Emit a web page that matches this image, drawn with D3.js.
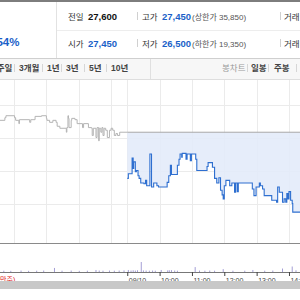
<!DOCTYPE html>
<html>
<head>
<meta charset="utf-8">
<script src="https://cdn.jsdelivr.net/npm/d3@7"></script>
<style>
    body { margin: 0; background: #fff; }
    svg { display: block; font-family: "Liberation Sans", "Noto Sans CJK KR", sans-serif; }
</style>
</head>
<body>
<div id="chart"></div>
<script>
// header quote box
var quoteLabels = [["전일", "고가", "거래량"], ["시가", "저가", "거래대금"]];
var quoteValues = [["27,600", "27,450"], ["27,450", "26,500"]];
var quoteLimits = ["(상한가 35,850)", "(하한가 19,350)"];
var changeText = "54%";

// period tabs
var periodTabs = ["1주일", "3개월", "1년", "3년", "5년", "10년"];
var chartTabs = ["봉차트", "일봉", "주봉", "월봉"];

// price series (previous session, gray) : time, price
var prevTimes = ["11:20", "11:43", "11:45", "12:01", "12:03", "12:09", "12:10", "12:29", "12:31", "12:39",
    "12:51", "13:00", "13:01", "13:06", "13:12", "13:18", "13:20", "13:25", "13:37", "13:38",
    "13:40", "13:41", "13:42", "13:46", "13:47", "13:53", "13:57", "14:07", "14:09", "14:18",
    "14:24", "14:25", "14:27", "14:32", "14:34", "14:37", "14:38", "14:41", "14:43", "14:45",
    "14:47", "14:50", "14:53", "14:57", "15:00", "15:03", "15:06", "15:09", "15:12", "15:16", "15:30"];
var prevPrices = [27760, 27800, 27830, 27800, 27760, 27710, 27770, 27730, 27770, 27820,
    27830, 27790, 27760, 27730, 27760, 27730, 27670, 27640, 27580, 27650,
    27830, 27790, 27650, 27760, 27790, 27770, 27710, 27650, 27710, 27650,
    27640, 27530, 27640, 27500, 27650, 27450, 27640, 27580, 27650, 27530,
    27640, 27610, 27500, 27610, 27640, 27610, 27530, 27560, 27530, 27580, 27580];

// price series (today, blue)
var todayTimes = ["09:00", "09:02", "09:09", "09:11", "09:12", "09:15", "09:17", "09:20", "09:22", "09:25",
    "09:31", "09:34", "09:36", "09:42", "09:45", "09:49", "09:55", "09:58", "10:14", "10:17",
    "10:20", "10:22", "10:33", "10:36", "10:38", "10:41", "10:42", "10:49", "10:51", "10:57",
    "10:59", "11:07", "11:09", "11:28", "11:30", "11:38", "11:42", "11:46", "11:50", "11:53",
    "11:56", "11:58", "12:00", "12:03", "12:10", "12:14", "12:19", "12:21", "12:24", "12:26",
    "12:52", "12:55", "12:59", "13:05", "13:07", "13:11", "13:14", "13:28", "13:37", "13:39",
    "13:42", "13:48", "13:51", "13:54", "13:56", "13:58", "14:00", "14:03", "14:06", "14:07", "14:25"];
var todayPrices = [26880, 26950, 27190, 27030, 27130, 26980, 27000, 26920, 26880, 26810,
    26800, 26850, 26770, 27250, 26750, 26810, 26770, 26750, 26820, 26920,
    27080, 26940, 27080, 27170, 27250, 27200, 27260, 27170, 27250, 27150,
    27250, 27170, 27000, 27060, 27120, 27050, 26880, 26810, 26890, 26700,
    26630, 26570, 26770, 26850, 26770, 26810, 26670, 26810, 26680, 26810,
    26720, 26620, 26750, 26810, 26770, 26720, 26620, 26550, 26520, 26750,
    26670, 26520, 26570, 26520, 26650, 26570, 26680, 26550, 26500, 26370, 26370];
var prevClose = 27580;

// volume bars
var prevVolTimes = ["11:41", "11:54", "12:13", "12:27", "12:42", "12:55", "13:15", "13:29", "13:46",
    "14:01", "14:16", "14:32", "14:38", "14:45", "14:57", "15:06", "15:15", "15:24"];
var prevVolValues = [450, 400, 500, 400, 450, 500, 1400, 450, 500, 400, 450, 700, 500, 450, 500, 450, 500, 550];
var todayVolTimes = ["09:02", "09:07", "09:11", "09:15", "09:19", "09:26", "09:30", "09:35", "09:41", "09:47",
    "09:52", "10:03", "10:15", "10:18", "10:22", "10:28", "10:33", "11:06", "11:14", "11:24",
    "11:33", "11:42", "11:58", "12:16", "12:38", "12:53", "13:15", "13:30", "13:48", "14:06", "14:13"];
var todayVolValues = [700, 500, 600, 500, 600, 3450, 550, 500, 450, 500,
    450, 700, 550, 600, 650, 500, 450, 1700, 500, 450,
    500, 450, 1000, 450, 450, 700, 450, 500, 1200, 1900, 600];

// grid / axis
var gridPrices = [28000, 27500, 27000, 26500];
var gridTimes = [[0, "12:00"], [0, "13:00"], [0, "14:00"], [0, "15:00"], [1, "09:00"], [1, "10:00"],
    [1, "11:00"], [1, "12:00"], [1, "13:00"], [1, "14:00"], [1, "15:00"]];
var axisTimes = [[1, "09:00"], [1, "10:00"], [1, "11:00"], [1, "12:00"], [1, "13:00"], [1, "14:00"]];
var axisLabels = ["09/10", "10:00", "11:00", "12:00", "13:00", "14:00"];

// minutes on a two-session axis (390 min per session)
function sessionMin(day, hhmm) {
    var p = hhmm.split(":");
    return day * 390 + (+p[0] * 60 + +p[1] - 540);
}

var prevData = prevTimes.map(function (t, i) {
    return {t: sessionMin(0, t), p: prevPrices[i]};
});
var todayData = todayTimes.map(function (t, i) {
    return {t: sessionMin(1, t), p: todayPrices[i]};
});
var volData = prevVolTimes.map(function (t, i) {
    return {t: sessionMin(0, t), v: prevVolValues[i]};
}).concat(todayVolTimes.map(function (t, i) {
    return {t: sessionMin(1, t), v: todayVolValues[i]};
}));

var svg = d3.select("#chart").append("svg")
        .attr("width", 300)
        .attr("height", 300);

var x = d3.scaleLinear().domain([0, 780]).range([-83, 337.5]);
var y = d3.scaleLinear().domain([26500, 28000]).range([203.5, 104.5]);
var yVol = d3.scaleLinear().domain([0, 10000]).range([272, 243]);

// ---- header ----
svg.append("rect").attr("x", 0).attr("y", 0).attr("width", 300).attr("height", 2).attr("fill", "#7d7d7d");
svg.append("line").attr("x1", 56.5).attr("x2", 56.5).attr("y1", 2).attr("y2", 58)
        .attr("stroke", "#e2e2e2");
svg.append("line").attr("x1", 57).attr("x2", 300).attr("y1", 30.5).attr("y2", 30.5)
        .attr("stroke", "#ededed");
svg.append("text").attr("x", 19.5).attr("y", 46).attr("text-anchor", "end")
        .attr("font-size", 11.5).attr("font-weight", 600).attr("fill", "#1a5fc8")
        .text(changeText);

var rowY = [20, 47];
quoteLabels.forEach(function (labels, r) {
    var g = svg.append("g").attr("transform", "translate(0," + rowY[r] + ")");
    g.append("text").attr("x", 68).attr("font-size", 8.5).attr("fill", "#333").text(labels[0]);
    g.append("text").attr("x", 88).attr("font-size", 9.5).attr("font-weight", "bold")
            .attr("fill", r === 0 ? "#111" : "#1a5fc8").text(quoteValues[r][0]);
    g.append("text").attr("x", 142).attr("font-size", 8.5).attr("fill", "#333").text(labels[1]);
    g.append("text").attr("x", 162).attr("font-size", 9.5).attr("font-weight", "bold")
            .attr("fill", "#1a5fc8").text(quoteValues[r][1]);
    g.append("text").attr("x", 192).attr("font-size", 8).attr("fill", "#555").text(quoteLimits[r]);
    g.append("text").attr("x", 284).attr("font-size", 8.5).attr("fill", "#333").text(labels[2]);
    [137.5, 280.5].forEach(function (sx) {
        g.append("line").attr("x1", sx).attr("x2", sx).attr("y1", -8).attr("y2", 0)
                .attr("stroke", "#d0d0d0");
    });
});

// ---- tab bar ----
svg.append("rect").attr("x", 0).attr("y", 58).attr("width", 300).attr("height", 21).attr("fill", "#f7f7f7");
svg.append("line").attr("x1", 0).attr("x2", 300).attr("y1", 58.5).attr("y2", 58.5).attr("stroke", "#cfcfcf");
svg.append("line").attr("x1", 0).attr("x2", 300).attr("y1", 79.5).attr("y2", 79.5).attr("stroke", "#dedede");
svg.append("line").attr("x1", 150.5).attr("x2", 150.5).attr("y1", 59).attr("y2", 79).attr("stroke", "#e0e0e0");

var tabX = [-8, 19, 47, 66, 89, 111];
svg.append("g").selectAll("text")
        .data(periodTabs)
        .enter()
        .append("text")
        .attr("x", function (d, i) { return tabX[i]; })
        .attr("y", 71)
        .attr("font-size", 8.5)
        .attr("font-weight", 600)
        .attr("fill", "#444")
        .text(function (d) { return d; });
svg.append("g").selectAll("line")
        .data([14, 42, 61, 84, 106])
        .enter()
        .append("line")
        .attr("x1", function (d) { return d + 0.5; })
        .attr("x2", function (d) { return d + 0.5; })
        .attr("y1", 64).attr("y2", 72)
        .attr("stroke", "#d6d6d6");

var chartTabX = [222, 251, 274, 301];
svg.append("g").selectAll("text")
        .data(chartTabs)
        .enter()
        .append("text")
        .attr("x", function (d, i) { return chartTabX[i]; })
        .attr("y", 71)
        .attr("font-size", 8.5)
        .attr("font-weight", function (d, i) { return i === 0 ? 400 : 600; })
        .attr("fill", function (d, i) { return i === 0 ? "#999" : "#444"; })
        .text(function (d) { return d; });
svg.append("g").selectAll("line")
        .data([247, 268, 296])
        .enter()
        .append("line")
        .attr("x1", function (d) { return d + 0.5; })
        .attr("x2", function (d) { return d + 0.5; })
        .attr("y1", 64).attr("y2", 72)
        .attr("stroke", "#d6d6d6");

// ---- price chart ----
var plot = svg.append("g");
plot.selectAll("line.hgrid")
        .data(gridPrices)
        .enter()
        .append("line")
        .attr("class", "hgrid")
        .attr("x1", 0).attr("x2", 300)
        .attr("y1", function (d) { return Math.round(y(d)) + 0.5; })
        .attr("y2", function (d) { return Math.round(y(d)) + 0.5; })
        .attr("stroke", "#ebebeb");
plot.selectAll("line.vgrid")
        .data(gridTimes)
        .enter()
        .append("line")
        .attr("class", "vgrid")
        .attr("x1", function (d) { return Math.round(x(sessionMin(d[0], d[1]))) + 0.5; })
        .attr("x2", function (d) { return Math.round(x(sessionMin(d[0], d[1]))) + 0.5; })
        .attr("y1", 80).attr("y2", 243)
        .attr("stroke", "#ebebeb");

var area = d3.area()
        .curve(d3.curveStepAfter)
        .x(function (d) { return x(d.t); })
        .y0(y(prevClose))
        .y1(function (d) { return y(d.p); });
plot.append("path")
        .datum(todayData)
        .attr("d", area)
        .attr("fill", "#e3ebf9")
        .attr("fill-opacity", 0.9);

// previous close reference
var lastPrev = prevData[prevData.length - 1];
plot.append("line")
        .attr("x1", x(lastPrev.t)).attr("x2", x(780))
        .attr("y1", y(prevClose)).attr("y2", y(prevClose))
        .attr("stroke", "#a8a8a8");

var line = d3.line()
        .curve(d3.curveStepAfter)
        .x(function (d) { return x(d.t); })
        .y(function (d) { return y(d.p); });
plot.append("path")
        .datum(prevData)
        .attr("d", line)
        .attr("fill", "none")
        .attr("stroke", "#b4b4b4")
        .attr("stroke-width", 1);
plot.append("path")
        .datum(todayData)
        .attr("d", line)
        .attr("fill", "none")
        .attr("stroke", "#2e6fd0")
        .attr("stroke-width", 1.1);

// ---- volume chart ----
svg.append("line").attr("x1", 0).attr("x2", 300).attr("y1", 243.5).attr("y2", 243.5)
        .attr("stroke", "#8a8a8a");
svg.append("g").selectAll("rect")
        .data(volData)
        .enter()
        .append("rect")
        .attr("x", function (d) { return x(d.t) - 0.5; })
        .attr("width", 1)
        .attr("y", function (d) { return yVol(d.v); })
        .attr("height", function (d) { return 272 - yVol(d.v); })
        .attr("fill", "#a49fd6");

var axis = d3.axisBottom(x)
        .tickValues(axisTimes.map(function (d) { return sessionMin(d[0], d[1]); }))
        .tickFormat(function (d, i) { return axisLabels[i]; })
        .tickSize(4)
        .tickPadding(2);
var gAxis = svg.append("g")
        .attr("transform", "translate(0,272)")
        .call(axis);
gAxis.select(".domain").attr("stroke", "#777").attr("d", "M0,0.5H300");
gAxis.selectAll(".tick line").attr("stroke", "#444");
gAxis.selectAll(".tick text")
        .attr("text-anchor", "start")
        .attr("dx", 1)
        .attr("font-size", 7)
        .attr("font-family", "Liberation Sans, sans-serif")
        .attr("fill", "#444");
svg.append("text").attr("x", 0).attr("y", 282).attr("font-size", 7).attr("fill", "#e02020").text("만주)");

// scroll bar strip
svg.append("rect").attr("x", 0).attr("y", 281).attr("width", 300).attr("height", 8).attr("fill", "#c8c8c8");
</script>
</body>
</html>
